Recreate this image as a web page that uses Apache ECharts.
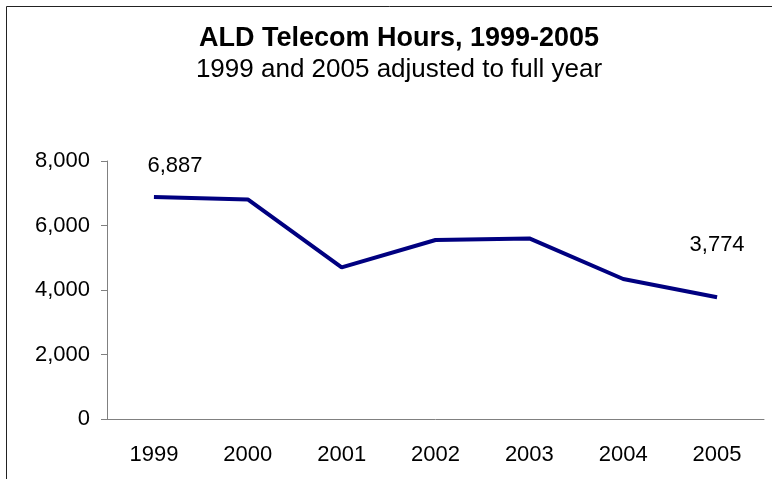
<!DOCTYPE html>
<html>
<head>
<meta charset="utf-8">
<script src="https://cdn.jsdelivr.net/npm/echarts@6/dist/echarts.min.js"></script>
<style>
  html, body { margin: 0; padding: 0; background: #fff; }
  #chart { width: 772px; height: 479px; }
</style>
</head>
<body>
<div id="chart"></div>
<script>
// ALD telecom hours by year (1999 and 2005 scaled to a full year)
const years = ['1999', '2000', '2001', '2002', '2003', '2004', '2005'];
const hours = [6887, 6810, 4700, 5550, 5600, 4340, 3774];
const labelledYears = ['1999', '2005'];

const yMin = 0;
const yMax = 8000;
const yStep = 2000;

const fmt = v => Number(v).toLocaleString('en-US');

const labelStyles = {
  '1999': { distance: 20, offset: [21, 0] },
  '2005': { distance: 41, offset: [0, 0] }
};

const seriesData = hours.map((v, i) => {
  const yr = years[i];
  if (labelledYears.indexOf(yr) === -1) return v;
  return {
    value: v,
    label: Object.assign({
      show: true,
      position: 'top',
      formatter: p => fmt(p.value),
      fontFamily: 'Liberation Sans',
      fontSize: 22,
      color: '#000'
    }, labelStyles[yr])
  };
});

const chart = echarts.init(document.getElementById('chart'), null, { renderer: 'canvas' });
chart.setOption({
  backgroundColor: '#fff',
  animation: false,
  title: {
    text: 'ALD Telecom Hours, 1999-2005',
    subtext: '1999 and 2005 adjusted to full year',
    left: 394,
    textAlign: 'center',
    top: 20,
    itemGap: 5,
    textStyle: { fontFamily: 'Liberation Sans', fontSize: 27, fontWeight: 'bold', color: '#000' },
    subtextStyle: { fontFamily: 'Liberation Sans', fontSize: 26, color: '#000' }
  },
  graphic: [{
    type: 'rect',
    shape: { x: 6.5, y: 6.5, width: 900, height: 600 },
    style: { fill: 'none', stroke: '#222', lineWidth: 1 },
    silent: true,
    z: -1
  }],
  grid: { left: 107, right: 8, top: 161, bottom: 60, containLabel: false },
  xAxis: {
    type: 'category',
    data: years,
    boundaryGap: true,
    axisLine: { lineStyle: { color: '#808080', width: 1 } },
    axisTick: { show: false },
    axisLabel: { fontFamily: 'Liberation Sans', fontSize: 22, color: '#000', margin: 25 }
  },
  yAxis: {
    type: 'value',
    min: yMin,
    max: yMax,
    interval: yStep,
    axisLine: { show: true, lineStyle: { color: '#808080', width: 1 } },
    axisTick: { show: true, length: 6, lineStyle: { color: '#808080' } },
    splitLine: { show: false },
    axisLabel: { fontFamily: 'Liberation Sans', fontSize: 22, color: '#000', margin: 17, formatter: v => fmt(v) }
  },
  series: [{
    type: 'line',
    data: seriesData,
    symbol: 'circle',
    symbolSize: 0,
    showSymbol: true,
    lineStyle: { color: '#000080', width: 4 },
    itemStyle: { color: '#000080' }
  }]
});
</script>
</body>
</html>
